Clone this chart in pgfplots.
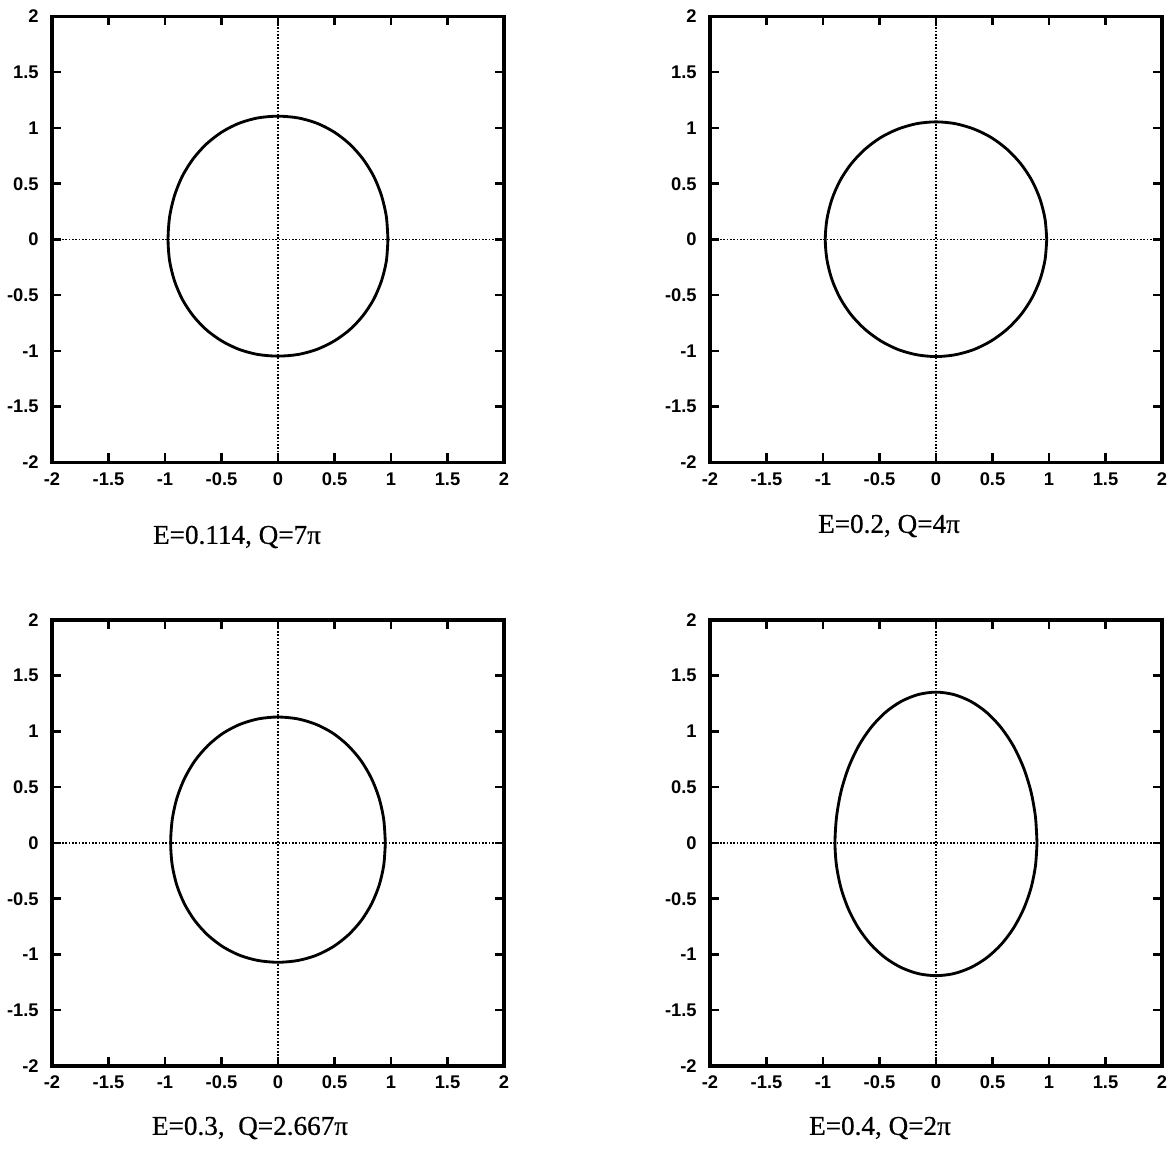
\documentclass[border=0pt]{standalone}
\usepackage{pgfplots}
\pgfplotsset{compat=1.18}
\usepackage{fontspec}
\setmainfont{Liberation Serif}
\newfontfamily\tickfont{Liberation Sans}
\newfontfamily\titlefont{Liberation Serif}[FakeBold=0.6]
\tikzset{ttl/.style={font=\titlefont\fontsize{16.3pt}{19pt}\selectfont}}
\begin{document}
\begin{tikzpicture}
\useasboundingbox (0,0) rectangle (705pt,-689.4pt);
\pgfplotsset{
  panel/.style={
    scale only axis, width=271.2pt, height=267.6pt, anchor=north west,
    xmin=-2, xmax=2, ymin=-2, ymax=2,
    xtick={-2,-1.5,-1,-0.5,0,0.5,1,1.5,2},
    ytick={-2,-1.5,-1,-0.5,0,0.5,1,1.5,2},
    xticklabels={-2,-1.5,-1,-0.5,0,0.5,1,1.5,2},
    yticklabels={-2,-1.5,-1,-0.5,0,0.5,1,1.5,2},
    tick label style={font=\tickfont\bfseries\fontsize{11pt}{13pt}\selectfont},
    yticklabel style={xshift=-4.5pt},
    xticklabel style={yshift=-2.5pt},
    tick align=inside, major tick length=5.4pt,
    every tick/.style={black, line width=1.5pt},
    axis line style={line width=2pt},
    clip=false,
  },
  curve/.style={black, line width=1.7pt, smooth, mark=none},
  zeroline/.style={black, line width=1pt, dash pattern=on 1pt off 1pt, mark=none},
}
% Panel 1: E=0.114
\begin{axis}[panel, at={(31.2pt,-9.9pt)}]
\addplot[zeroline] coordinates {(-2,0) (2,0)};
\addplot[zeroline] coordinates {(0,-2) (0,2)};
\addplot[curve] coordinates {
(0.973,0) (0.959,0.204) (0.916,0.393) (0.847,0.567) (0.752,0.722) (0.635,0.855) (0.498,0.963) (0.346,1.042) (0.180,1.090) (0,1.106)
(-0.180,1.090) (-0.346,1.042) (-0.498,0.963) (-0.635,0.855) (-0.752,0.722) (-0.847,0.567) (-0.916,0.393) (-0.959,0.204) (-0.973,0)
(-0.959,-0.193) (-0.916,-0.371) (-0.847,-0.536) (-0.752,-0.683) (-0.635,-0.809) (-0.498,-0.910) (-0.346,-0.985) (-0.180,-1.031) (0,-1.046)
(0.180,-1.031) (0.346,-0.985) (0.498,-0.910) (0.635,-0.809) (0.752,-0.683) (0.847,-0.536) (0.916,-0.371) (0.959,-0.193) (0.973,0)
};
\end{axis}
% Panel 2: E=0.2
\begin{axis}[panel, at={(426pt,-9.9pt)}]
\addplot[zeroline] coordinates {(-2,0) (2,0)};
\addplot[zeroline] coordinates {(0,-2) (0,2)};
\addplot[curve] coordinates {
(0.98,0) (0.965,0.183) (0.921,0.361) (0.849,0.528) (0.751,0.678) (0.630,0.808) (0.490,0.914) (0.335,0.991) (0.170,1.039) (0,1.055)
(-0.170,1.039) (-0.335,0.991) (-0.490,0.914) (-0.630,0.808) (-0.751,0.678) (-0.849,0.528) (-0.921,0.361) (-0.965,0.183) (-0.98,0)
(-0.965,-0.182) (-0.921,-0.359) (-0.849,-0.525) (-0.751,-0.675) (-0.630,-0.804) (-0.490,-0.909) (-0.335,-0.987) (-0.170,-1.034) (0,-1.05)
(0.170,-1.034) (0.335,-0.987) (0.490,-0.909) (0.630,-0.804) (0.751,-0.675) (0.849,-0.525) (0.921,-0.359) (0.965,-0.182) (0.98,0)
};
\end{axis}
% Panel 3: E=0.3
\begin{axis}[panel, at={(31.2pt,-372pt)}]
\addplot[zeroline] coordinates {(-2,0) (2,0)};
\addplot[zeroline] coordinates {(0,-2) (0,2)};
\addplot[curve] coordinates {
(0.95,0) (0.936,0.209) (0.895,0.401) (0.827,0.579) (0.735,0.738) (0.620,0.874) (0.487,0.984) (0.337,1.064) (0.175,1.113) (0,1.13)
(-0.175,1.113) (-0.337,1.064) (-0.487,0.984) (-0.620,0.874) (-0.735,0.738) (-0.827,0.579) (-0.895,0.401) (-0.936,0.209) (-0.95,0)
(-0.936,-0.198) (-0.895,-0.380) (-0.827,-0.548) (-0.735,-0.698) (-0.620,-0.827) (-0.487,-0.931) (-0.337,-1.008) (-0.175,-1.054) (0,-1.07)
(0.175,-1.054) (0.337,-1.008) (0.487,-0.931) (0.620,-0.827) (0.735,-0.698) (0.827,-0.548) (0.895,-0.380) (0.936,-0.198) (0.95,0)
};
\end{axis}
% Panel 4: E=0.4
\begin{axis}[panel, at={(426pt,-372pt)}]
\addplot[zeroline] coordinates {(-2,0) (2,0)};
\addplot[zeroline] coordinates {(0,-2) (0,2)};
\addplot[curve] coordinates {
(0.894,0) (0.880,0.235) (0.840,0.463) (0.774,0.677) (0.685,0.870) (0.575,1.036) (0.447,1.172) (0.306,1.271) (0.155,1.332) (0,1.353)
(-0.155,1.332) (-0.306,1.271) (-0.447,1.172) (-0.575,1.036) (-0.685,0.870) (-0.774,0.677) (-0.840,0.463) (-0.880,0.235) (-0.894,0)
(-0.880,-0.207) (-0.840,-0.407) (-0.774,-0.595) (-0.685,-0.765) (-0.575,-0.912) (-0.447,-1.031) (-0.306,-1.118) (-0.155,-1.172) (0,-1.19)
(0.155,-1.172) (0.306,-1.118) (0.447,-1.031) (0.575,-0.912) (0.685,-0.765) (0.774,-0.595) (0.840,-0.407) (0.880,-0.207) (0.894,0)
};
\end{axis}
\node[ttl] at (142.2pt,-322.2pt) {E=0.114, Q=7π};
\node[ttl] at (533.4pt,-315.6pt) {E=0.2, Q=4π};
\node[ttl] at (150pt,-676.8pt) {E=0.3,\ \ Q=2.667π};
\node[ttl] at (528pt,-676.8pt) {E=0.4, Q=2π};
\end{tikzpicture}
\end{document}
